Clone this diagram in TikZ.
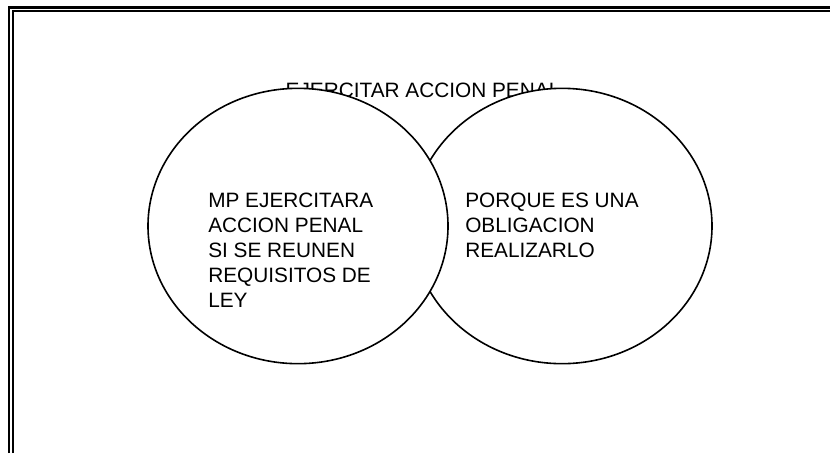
\documentclass[tikz,border=0pt]{standalone}
\usepackage{fontspec}
\setmainfont{Liberation Sans}
\usetikzlibrary{shapes.geometric, positioning}

\begin{document}
\begin{tikzpicture}[
    x=0.75pt, y=-0.75pt,
    every node/.style={font=\fontsize{15.6}{18.75}\selectfont},
    circ/.style={draw, ellipse, fill=white, line width=1.2pt, inner sep=0pt,
      minimum width=225pt, minimum height=206.5pt},
    txt/.style={align=left, inner sep=0pt, anchor=north west}
  ]
  \useasboundingbox (0,0) rectangle (830,453);

  % frame
  \draw[line width=2pt] (9,453) -- (9,7.3) -- (830,7.3);
  \draw[line width=1.4pt] (12.7,453) -- (12.7,11.3) -- (830,11.3);

  % title (behind the circles)
  \node[inner sep=0pt, anchor=north] (titulo) at (423,82.7) {EJERCITAR ACCION PENAL};

  % circles
  \node[circ] (der) at (562,226) {};
  \node[circ] (izq) at (298,226) {};

  % texts
  \node[txt] (mp) at (208,192.3) {MP EJERCITARA\\ACCION PENAL\\SI SE REUNEN\\REQUISITOS DE\\LEY};
  \node[txt] (porque) at (465,192.3) {PORQUE ES UNA\\OBLIGACION\\REALIZARLO};
\end{tikzpicture}
\end{document}
